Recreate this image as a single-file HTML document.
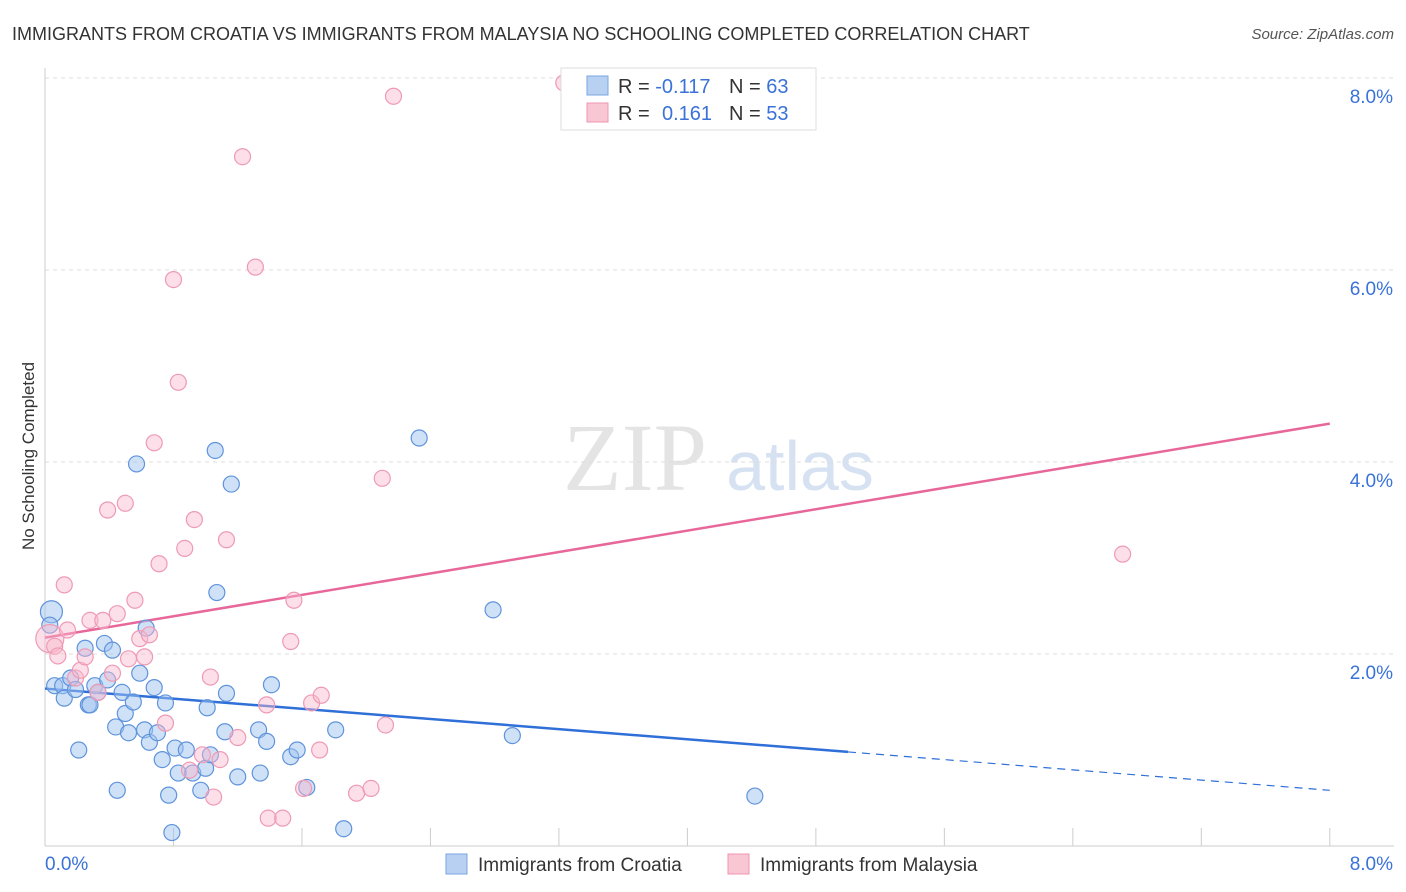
<!DOCTYPE html>
<html><head><meta charset="utf-8"><style>
body{margin:0;background:#fff;font-family:"Liberation Sans",sans-serif;}
svg{display:block}
</style></head><body>
<svg id="chart" width="1406" height="892">
<text x="12" y="40" font-size="18" fill="#333">IMMIGRANTS FROM CROATIA VS IMMIGRANTS FROM MALAYSIA NO SCHOOLING COMPLETED CORRELATION CHART</text>
<text x="1394" y="39" font-size="15" fill="#555" font-style="italic" text-anchor="end">Source: ZipAtlas.com</text>
<text transform="translate(34,456) rotate(-90)" font-size="17" fill="#333" text-anchor="middle">No Schooling Completed</text>
<g><text x="635" y="490" font-size="96" font-family="Liberation Serif,serif" fill="#e4e4e4" text-anchor="middle">ZIP</text><text x="800" y="490" font-size="70" fill="#d6e2f2" text-anchor="middle">atlas</text></g>
<g id="grid"></g><g id="axes"></g><g id="lines"></g><g id="pts"></g>
<g>
<rect x="561" y="68" width="255" height="62" fill="#fff" stroke="#ddd"/>
<rect x="587" y="76" width="21" height="19" fill="#b8d1f3" stroke="#7aa5e0"/>
<rect x="587" y="103" width="21" height="19" fill="#f9c6d4" stroke="#ee96b0"/>
<text x="618" y="93" font-size="20" fill="#333">R = <tspan fill="#3a72d8">-0.117</tspan><tspan x="729">N = </tspan><tspan fill="#3a72d8">63</tspan></text>
<text x="618" y="120" font-size="20" fill="#333">R = <tspan x="662" fill="#3a72d8">0.161</tspan><tspan x="729">N = </tspan><tspan fill="#3a72d8">53</tspan></text>
</g>
<g>
<rect x="446" y="854" width="21" height="20" fill="#b8d1f3" stroke="#7aa5e0"/>
<text x="478" y="871" font-size="19" fill="#333">Immigrants from Croatia</text>
<rect x="728" y="854" width="21" height="20" fill="#f9c6d4" stroke="#ee96b0"/>
<text x="760" y="871" font-size="19" fill="#333">Immigrants from Malaysia</text>
</g>
</svg>
<script>
const yTicks=[2,4,6,8];
const yTickLabels=["2.0%","4.0%","6.0%","8.0%"];
const xTickLabels=["0.0%","8.0%"];
const croatiaX=[0.04,0.03,0.06,0.11,0.12,0.16,0.19,0.21,0.25,0.27,0.28,0.31,0.33,0.37,0.39,0.42,0.44,0.45,0.48,0.5,0.52,0.55,0.57,0.59,0.62,0.63,0.65,0.68,0.7,0.73,0.75,0.77,0.79,0.81,0.83,0.88,0.92,0.97,1.0,1.01,1.03,1.06,1.07,1.12,1.13,1.16,1.2,1.33,1.34,1.38,1.41,1.53,1.57,1.63,1.81,1.86,2.33,2.79,2.91,4.42];
const croatiaY=[2.44,2.3,1.67,1.67,1.54,1.75,1.63,1.0,2.06,1.47,1.47,1.67,1.6,2.11,1.73,2.04,1.24,0.58,1.6,1.38,1.18,1.5,3.98,1.8,1.21,2.27,1.08,1.65,1.18,0.9,1.49,0.53,0.14,1.02,0.76,1.0,0.76,0.58,0.81,1.44,0.95,4.12,2.64,1.19,1.59,3.77,0.72,1.21,0.76,1.09,1.68,0.93,1.0,0.61,1.21,0.18,4.25,2.46,1.15,0.52];
const malaysiaX=[0.03,0.06,0.08,0.12,0.14,0.19,0.22,0.25,0.28,0.33,0.36,0.39,0.42,0.45,0.5,0.52,0.56,0.59,0.62,0.65,0.68,0.71,0.75,0.8,0.83,0.87,0.9,0.93,0.98,1.03,1.05,1.09,1.13,1.2,1.23,1.31,1.38,1.39,1.48,1.53,1.55,1.61,1.66,1.71,1.72,1.94,2.03,2.1,2.12,2.17,3.23,6.71];
const malaysiaY=[2.16,2.08,1.98,2.72,2.25,1.75,1.83,1.97,2.35,1.6,2.35,3.5,1.8,2.42,3.57,1.95,2.56,2.16,1.97,2.2,4.2,2.94,1.28,5.9,4.83,3.1,0.79,3.4,0.95,1.76,0.51,0.9,3.19,1.13,7.18,6.03,1.47,0.29,0.29,2.13,2.56,0.6,1.49,1.0,1.57,0.55,0.6,3.83,1.26,7.81,7.95,3.04];
const croatiaTrend=[0,1.64,5.0,0.98,8.0,0.58];
const malaysiaTrend=[0,2.17,8.0,4.4];
const X=v=>45+v*160.6, Y=v=>846-v*96;
const NS="http://www.w3.org/2000/svg";
function mk(p,t,a){const e=document.createElementNS(NS,t);for(const k in a)e.setAttribute(k,a[k]);p.appendChild(e);return e;}
const grid=document.getElementById('grid'),axes=document.getElementById('axes'),lines=document.getElementById('lines'),pts=document.getElementById('pts');
yTicks.forEach((t,i)=>{const l=mk(grid,'line',{x1:45,x2:1394,y1:Y(t),y2:Y(t),stroke:'#ddd','stroke-dasharray':'4,4'});


const tx=mk(axes,'text',{x:1393,y:Y(t)+25,'font-size':19,fill:'#3a72d8','text-anchor':'end'});tx.textContent=yTickLabels[i];

});
mk(axes,'line',{x1:45,x2:45,y1:68,y2:846,stroke:'#ccc'});
mk(axes,'line',{x1:45,x2:1394,y1:846,y2:846,stroke:'#ccc'});
for(let i=1;i<=10;i++){mk(axes,'line',{x1:X(i*0.8),x2:X(i*0.8),y1:828,y2:846,stroke:'#ccc'});}
xTickLabels.forEach((s,i)=>{const tx=mk(axes,'text',{x:i?1393:45,y:870,'font-size':19,fill:'#3a72d8','text-anchor':i?'end':'start'});tx.textContent=s;

});
let c=croatiaTrend;
let l1=mk(lines,'line',{x1:X(c[0]),y1:Y(c[1]),x2:X(c[2]),y2:Y(c[3]),stroke:'#2f6fd8','stroke-width':2.5});


let l2=mk(lines,'line',{x1:X(c[2]),y1:Y(c[3]),x2:X(c[4]),y2:Y(c[5]),stroke:'#2f6fd8','stroke-width':1.2,'stroke-dasharray':'8,6'});


let m=malaysiaTrend;
let l3=mk(lines,'line',{x1:X(m[0]),y1:Y(m[1]),x2:X(m[2]),y2:Y(m[3]),stroke:'#e8679a','stroke-width':2.5});


croatiaX.forEach((v,i)=>{const e=mk(pts,'circle',{cx:X(v),cy:Y(croatiaY[i]),r:i<1?11:8,fill:'rgba(160,195,240,0.5)',stroke:'#5f93dc','stroke-width':1.2});

});
malaysiaX.forEach((v,i)=>{const e=mk(pts,'circle',{cx:X(v),cy:Y(malaysiaY[i]),r:i<1?14:8,fill:'rgba(248,185,205,0.45)',stroke:'#ef9ab5','stroke-width':1.2});

});
</script>
</body></html>
